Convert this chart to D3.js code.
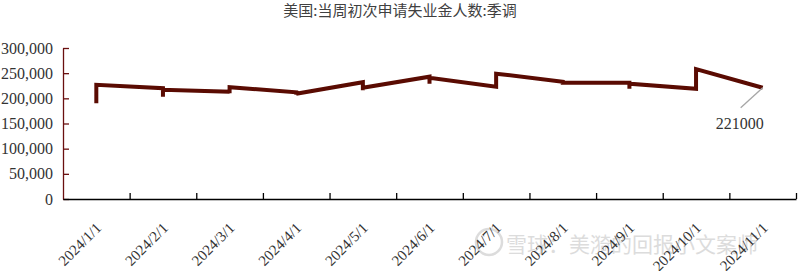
<!DOCTYPE html>
<html>

<head>
  <title>Initial Jobless Claims</title>
  <meta charset="UTF-8">
  <script src="https://d3js.org/d3.v7.min.js"></script>
  <style type="text/css">
    body {
      margin: 0;
      background: #fff;
    }
  </style>
</head>

<body>
  <script type="text/javascript">
    // chart data
    var months = ["2024/1/1", "2024/2/1", "2024/3/1", "2024/4/1", "2024/5/1", "2024/6/1",
      "2024/7/1", "2024/8/1", "2024/9/1", "2024/10/1", "2024/11/1"];

    var weekDates = [
      "2024-01-06", "2024-01-13", "2024-01-20", "2024-01-27",
      "2024-02-03", "2024-02-10", "2024-02-17", "2024-02-24",
      "2024-03-02", "2024-03-09", "2024-03-16", "2024-03-23", "2024-03-30",
      "2024-04-06", "2024-04-13", "2024-04-20", "2024-04-27",
      "2024-05-04", "2024-05-11", "2024-05-18", "2024-05-25",
      "2024-06-01", "2024-06-08", "2024-06-15", "2024-06-22",
      "2024-07-06", "2024-07-13", "2024-07-20", "2024-07-27",
      "2024-08-03", "2024-08-10", "2024-08-17", "2024-08-24", "2024-08-31",
      "2024-09-07", "2024-09-14", "2024-09-21", "2024-09-28",
      "2024-10-05", "2024-10-12", "2024-10-19", "2024-10-26",
      "2024-11-02"
    ];

    var claims = [
      203000, 190000, 215000, 227000,
      220000, 213000, 203000, 217000,
      213000, 210000, 212000, 210000, 222000,
      212000, 212000, 207000, 209000,
      232000, 223000, 216000, 221000,
      243000, 229000, 236000, 241000,
      223000, 245000, 235000, 249000,
      233000, 227000, 233000, 232000, 231000,
      231000, 219000, 222000, 229000,
      219000, 227000, 241000, 258000,
      221000
    ];

    var yTicks = [0, 50000, 100000, 150000, 200000, 250000, 300000];

    var titleText = "美国:当周初次申请失业金人数:季调";
    var watermark = "雪球：美漪的回报小文案师";

    function drawChart() {
      var width = 800, height = 271;
      var m = { left: 63, right: 796, top: 48, bottom: 199 };
      var serif = "'Liberation Serif', 'Times New Roman', serif";

      var parseDate = d3.timeParse("%Y-%m-%d");
      var monthKey = d3.timeFormat("%Y/%-m/1");

      var data = weekDates.map(function (d, i) {
        return { month: monthKey(parseDate(d)), value: claims[i] };
      });

      var svg = d3.select("body").append("svg")
        .attr("width", width)
        .attr("height", height);

      // scales
      var x = d3.scaleBand().domain(months).range([m.left, m.right]).padding(0);
      var xEdge = d3.scaleLinear().domain([0, months.length]).range([m.left, m.right]);
      var y = d3.scaleLinear().domain([0, 300000]).range([m.bottom, m.top]);

      // title
      svg.append("text")
        .attr("x", width / 2)
        .attr("y", 16)
        .attr("text-anchor", "middle")
        .style("font-family", "'Noto Sans CJK SC', sans-serif")
        .style("font-size", "15px")
        .attr("fill", "#404040")
        .text(titleText);

      // watermark
      var wm = svg.append("g").attr("opacity", 0.5);
      wm.append("circle")
        .attr("cx", 489).attr("cy", 242).attr("r", 13)
        .attr("fill", "none").attr("stroke", "#bbb").attr("stroke-width", 2.5);
      wm.append("text")
        .attr("x", 506).attr("y", 252)
        .style("font-family", "'Noto Sans CJK SC', sans-serif")
        .style("font-size", "21px")
        .attr("fill", "#bbb")
        .text(watermark);

      // y axis
      var yAxis = svg.append("g")
        .attr("transform", "translate(" + m.left + ",0)")
        .call(d3.axisLeft(y).tickValues(yTicks).tickSizeInner(-6).tickSizeOuter(0)
          .tickPadding(10).tickFormat(d3.format(",")));
      yAxis.select(".domain").attr("stroke", "#6a1010").attr("stroke-width", 1.3);
      yAxis.selectAll(".tick line").attr("stroke", "#6a1010").attr("stroke-width", 1.3);
      yAxis.selectAll("text")
        .style("font-family", serif)
        .style("font-size", "16px")
        .attr("fill", "#333");

      // x axis ticks at month boundaries
      var xAxis = svg.append("g")
        .attr("transform", "translate(0," + m.bottom + ")")
        .call(d3.axisBottom(xEdge).ticks(months.length).tickSizeInner(-6).tickSizeOuter(0).tickFormat(""));
      xAxis.select(".domain").attr("stroke", "#000").attr("stroke-width", 1.5);
      xAxis.selectAll(".tick line").attr("stroke", "#000").attr("stroke-width", 1.3);
      xAxis.selectAll(".tick").filter(function (d) { return d === 0; }).remove();

      // x labels
      var xLabels = svg.append("g")
        .attr("transform", "translate(0," + m.bottom + ")")
        .call(d3.axisBottom(x).tickSize(0).tickPadding(0));
      xLabels.select(".domain").remove();
      xLabels.selectAll("text")
        .style("font-family", serif)
        .style("font-size", "15px")
        .attr("fill", "#333")
        .attr("text-anchor", "end")
        .attr("dy", 0)
        .attr("y", 0)
        .attr("transform", "translate(6,30) rotate(-45)");

      // line
      var line = d3.line()
        .x(function (d) { return x(d.month) + x.bandwidth() / 2; })
        .y(function (d) { return y(d.value); });

      svg.append("path")
        .datum(data)
        .attr("d", line)
        .attr("fill", "none")
        .attr("stroke", "#5a0b02")
        .attr("stroke-width", 4)
        .attr("stroke-linejoin", "miter");

      // last value label
      var last = data[data.length - 1];
      var lx = x(last.month) + x.bandwidth() / 2, ly = y(last.value);
      svg.append("line")
        .attr("x1", lx).attr("y1", ly)
        .attr("x2", lx - 22).attr("y2", ly + 20)
        .attr("stroke", "#a6a6a6").attr("stroke-width", 1.3);
      svg.append("text")
        .style("font-family", serif)
        .style("font-size", "16px")
        .attr("fill", "#333")
        .attr("x", lx - 23)
        .attr("y", ly + 41)
        .attr("text-anchor", "middle")
        .text(last.value);
    }

    drawChart();
  </script>
</body>

</html>
